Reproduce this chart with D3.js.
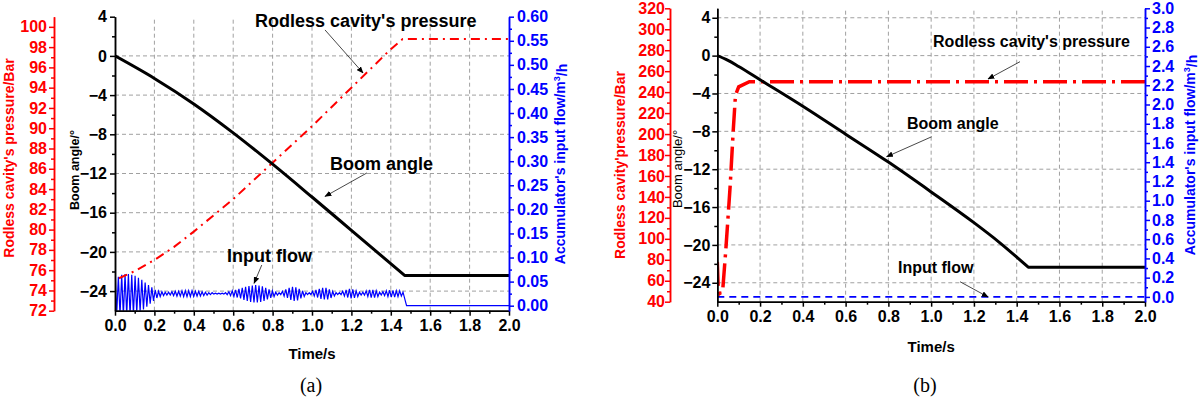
<!DOCTYPE html>
<html><head><meta charset="utf-8">
<script src="https://cdn.jsdelivr.net/npm/d3@7/dist/d3.min.js"></script>
<style>
body{margin:0;background:#fff}
svg{display:block}
</style>
</head><body>
<svg id="chart" width="1200" height="398" font-family="Liberation Sans, Arial, sans-serif"></svg>
<script>
// ---------------- data ----------------
const timeTicks = [0, 0.2, 0.4, 0.6, 0.8, 1.0, 1.2, 1.4, 1.6, 1.8, 2.0];
const boomTicks = [-24, -20, -16, -12, -8, -4, 0, 4];
const pressTicksA = [72, 74, 76, 78, 80, 82, 84, 86, 88, 90, 92, 94, 96, 98, 100];
const flowTicksA = [0, 0.05, 0.10, 0.15, 0.20, 0.25, 0.30, 0.35, 0.40, 0.45, 0.50, 0.55, 0.60];
const pressTicksB = [40, 60, 80, 100, 120, 140, 160, 180, 200, 220, 240, 260, 280, 300, 320];
const flowTicksB = [0, 0.2, 0.4, 0.6, 0.8, 1.0, 1.2, 1.4, 1.6, 1.8, 2.0, 2.2, 2.4, 2.6, 2.8, 3.0];

// panel (a)
const boomTimeA = [0, 0.2, 0.4, 0.6, 0.8, 1.0, 1.2, 1.47, 2.0];
const boomA     = [0, -2.3, -4.9, -7.85, -11.05, -14.4, -17.8, -22.4, -22.4];
const boomStopA = 1.47;
const pressTimeA = [0.02, 0.1, 0.2, 0.3, 0.4, 0.5, 0.6, 0.7, 0.8, 0.9, 1.0, 1.1, 1.2, 1.3, 1.4, 1.46, 2.0];
const pressA     = [75.2, 75.9, 77.0, 78.3, 79.8, 81.4, 83.0, 84.8, 86.6, 88.4, 90.2, 92.1, 94.0, 95.9, 97.8, 98.8, 98.8];
const flowStepA = 0.0085; // sample spacing (s) of the flow trace, alternating peaks/troughs
const flowA = [
  0.081, -0.020, 0.060, -0.020, 0.064, -0.020, 0.066, -0.020, 0.066, -0.020,
  0.064, -0.018, 0.062, -0.015, 0.058, -0.012, 0.054, -0.008, 0.048, -0.002,
  0.043, 0.004, 0.038, 0.010, 0.033, 0.016, 0.030, 0.019, 0.029, 0.021,
  0.028, 0.022, 0.028, 0.022, 0.029, 0.021, 0.030, 0.020, 0.030, 0.020,
  0.031, 0.019, 0.031, 0.019, 0.031, 0.019, 0.031, 0.019, 0.030, 0.020,
  0.030, 0.020, 0.029, 0.021, 0.028, 0.022, 0.027, 0.023, 0.027, 0.024,
  0.026, 0.024, 0.026, 0.024, 0.026, 0.024, 0.027, 0.023, 0.029, 0.021,
  0.031, 0.019, 0.033, 0.017, 0.035, 0.015, 0.037, 0.012, 0.039, 0.010,
  0.041, 0.008, 0.042, 0.007, 0.043, 0.007, 0.042, 0.008, 0.040, 0.010,
  0.037, 0.013, 0.034, 0.016, 0.031, 0.019, 0.028, 0.022, 0.027, 0.023,
  0.030, 0.020, 0.034, 0.016, 0.037, 0.012, 0.039, 0.010, 0.038, 0.011,
  0.035, 0.015, 0.031, 0.019, 0.027, 0.023, 0.027, 0.023, 0.030, 0.020,
  0.033, 0.017, 0.035, 0.014, 0.037, 0.013, 0.037, 0.013, 0.034, 0.016,
  0.030, 0.020, 0.027, 0.023, 0.027, 0.023, 0.030, 0.020, 0.033, 0.017,
  0.035, 0.015, 0.034, 0.016, 0.031, 0.019, 0.028, 0.022, 0.028, 0.022,
  0.031, 0.019, 0.033, 0.017, 0.033, 0.017, 0.031, 0.019, 0.028, 0.022,
  0.029, 0.021, 0.031, 0.019, 0.032, 0.018, 0.032, 0.018, 0.031, 0.019,
  0.031, 0.020, 0.028
];
const flowTailTimeA = [1.48, 2.0];
const flowTailA     = [0, 0];

// panel (b)
const boomTimeB = [0, 0.05, 0.1, 0.2, 0.4, 0.6, 0.8, 1.0, 1.2, 1.32, 1.454, 2.0];
const boomB     = [0, -0.5, -1.15, -2.55, -5.35, -8.3, -11.25, -14.4, -17.65, -19.75, -22.35, -22.35];
const boomStopB = 1.454;
const pressTimeB = [0, 0.004, 0.012, 0.025, 0.04, 0.06, 0.075, 0.085, 0.1, 0.15, 2.0];
const pressB     = [78, 55, 48, 50, 90, 150, 205, 237, 245, 250, 250];
const flowTimeB = [0, 2.0];
const flowB     = [0, 0];

// annotations (time, boom angle) — text anchor and arrow from/to
const notesA = [
  {label: "Rodless cavity's pressure", t: 0.711, v: 2.95, a: [1.066, 2.65, 1.259, -1.74]},
  {label: "Boom angle", t: 1.091, v: -11.64, a: [1.279, -11.94, 1.066, -14.34]},
  {label: "Input flow", t: 0.569, v: -21.0, a: [0.745, -21.34, 0.706, -23.2]}
];
const notesB = [
  {label: "Rodless cavity's pressure", t: 1.009, v: 0.94, a: [1.4155, -0.64, 1.266, -2.47]},
  {label: "Boom angle", t: 0.887, v: -7.78, a: [1.0026, -8.57, 0.792, -10.68]},
  {label: "Input flow", t: 0.845, v: -23.0, a: [1.135, -23.89, 1.266, -25.5]}
];

// ---------------- drawing ----------------
const svg = d3.select("#chart");
const defs = svg.append("defs");
defs.append("marker").attr("id", "arr").attr("viewBox", "0 0 10 8")
  .attr("refX", 9).attr("refY", 4).attr("markerWidth", 7).attr("markerHeight", 6)
  .attr("orient", "auto").attr("markerUnits", "userSpaceOnUse")
  .append("path").attr("d", "M0,0 L10,4 L0,8 Z").attr("fill", "#000");

function minors(ticks) {
  const m = [];
  for (let i = 0; i < ticks.length - 1; i++) m.push((ticks[i] + ticks[i + 1]) / 2);
  return m;
}

function panel(o) {
  const g = svg.append("g");
  const x = d3.scaleLinear().domain([0, 2]).range([o.x0, o.x1]);
  const yB = d3.scaleLinear().domain(o.boomDom).range([o.yb, o.yt]);
  const yP = d3.scaleLinear().domain(o.pressDom).range([o.yb, o.yt]);
  const yF = d3.scaleLinear().domain(o.flowDom).range([o.yb, o.yt]);

  // grid
  const grid = g.append("g").attr("stroke", "#a0a0a0").attr("stroke-width", 1).attr("stroke-dasharray", "4,3");
  timeTicks.filter(d => d > 0 && d < 2).forEach(d => {
    grid.append("line").attr("x1", x(d)).attr("x2", x(d)).attr("y1", o.yb).attr("y2", o.yt);
  });
  o.gridBoom.forEach(d => {
    grid.append("line").attr("x1", o.x0).attr("x2", o.x1).attr("y1", yB(d)).attr("y2", yB(d));
  });

  const cid = "clip" + o.id;
  defs.append("clipPath").attr("id", cid).append("rect")
    .attr("x", o.x0).attr("y", o.yt - 2).attr("width", o.x1 - o.x0).attr("height", o.yb - o.yt + 2);
  const plot = g.append("g").attr("clip-path", `url(#${cid})`);

  plot.append("path").datum(o.flowPts)
    .attr("d", d3.line().x(d => x(d[0])).y(d => yF(d[1])))
    .attr("fill", "none").attr("stroke", "#0000ff").attr("stroke-width", o.flowW)
    .attr("stroke-dasharray", o.flowDash);
  plot.append("path").datum(o.pressPts)
    .attr("d", d3.line().x(d => x(d[0])).y(d => yP(d[1])))
    .attr("fill", "none").attr("stroke", "#ff0000").attr("stroke-width", o.pressW)
    .attr("stroke-dasharray", o.pressDash);
  // boom: smooth descent, then straight hold
  const descent = o.boomPts.filter(d => d[0] <= o.boomStop);
  const hold = o.boomPts.filter(d => d[0] >= o.boomStop);
  const boomPath = d3.line().x(d => x(d[0])).y(d => yB(d[1])).curve(d3.curveMonotoneX)(descent)
    + d3.line().x(d => x(d[0])).y(d => yB(d[1]))(hold).replace(/^M/, "L");
  plot.append("path").attr("d", boomPath)
    .attr("fill", "none").attr("stroke", "#000").attr("stroke-width", 3).attr("stroke-linejoin", "round");

  const fs = o.tickFs;
  function styleAxis(sel, color) {
    sel.selectAll("path").attr("stroke", color).attr("stroke-width", 1.5);
    sel.selectAll("line").attr("stroke", color).attr("stroke-width", 1.5);
    sel.selectAll("text").attr("fill", color).attr("font-size", fs).attr("font-weight", "bold")
      .attr("font-family", "Liberation Sans, Arial, sans-serif");
  }
  function addAxis(axisFn, scale, ticks, fmt, tx, ty, color, pad) {
    const major = g.append("g").attr("transform", `translate(${tx},${ty})`)
      .call(axisFn(scale).tickValues(ticks).tickFormat(fmt).tickSize(5).tickSizeOuter(0).tickPadding(pad));
    styleAxis(major, color);
    const minor = g.append("g").attr("transform", `translate(${tx},${ty})`)
      .call(axisFn(scale).tickValues(minors(ticks)).tickFormat("").tickSize(3).tickSizeOuter(0));
    styleAxis(minor, color);
    return major;
  }
  addAxis(d3.axisBottom, x, timeTicks, d3.format(".1f"), 0, o.yb, "#000", 4);
  addAxis(d3.axisLeft, yB, boomTicks, d3.format("d"), o.x0, 0, "#000", o.boomPad);
  addAxis(d3.axisLeft, yP, o.pressTicks, d3.format("d"), o.px, 0, "#ff0000", o.pressPad);
  addAxis(d3.axisRight, yF, o.flowTicks, d3.format(o.flowFmt), o.x1, 0, "#0000ff", o.flowPad);

  // axis titles
  const tfs = 14;
  g.append("text").attr("transform", `translate(${o.pressTitle[0]},${o.pressTitle[1]}) rotate(-90)`)
    .attr("text-anchor", "middle").attr("dy", "0.35em").attr("fill", "#ff0000")
    .attr("font-size", tfs).attr("font-weight", "bold").text(o.pressLabel);
  g.append("text").attr("transform", `translate(${o.boomTitle[0]},${o.boomTitle[1]}) rotate(-90)`)
    .attr("text-anchor", "middle").attr("dy", "0.35em").attr("fill", "#000")
    .attr("font-size", o.boomTitleFs).attr("font-weight", o.boomTitleW).text("Boom angle/°");
  const ft = g.append("text").attr("transform", `translate(${o.flowTitle[0]},${o.flowTitle[1]}) rotate(-90)`)
    .attr("text-anchor", "middle").attr("dy", "0.35em").attr("fill", "#0000ff")
    .attr("font-size", tfs).attr("font-weight", "bold");
  ft.append("tspan").text("Accumulator's input flow/m");
  ft.append("tspan").attr("font-size", 9).attr("dy", "-0.6em").text("3");
  ft.append("tspan").attr("dy", "0.5em").text("/h");

  g.append("text").attr("x", (o.x0 + o.x1) / 2).attr("y", o.timeY)
    .attr("text-anchor", "middle").attr("font-size", 15).attr("font-weight", "bold").text("Time/s");
  g.append("text").attr("x", o.tagX).attr("y", 392)
    .attr("text-anchor", "middle").attr("font-size", 20)
    .attr("font-family", "Liberation Serif, Times New Roman, serif").text(o.tag);

  // annotations
  o.notes.forEach(n => {
    g.append("text").attr("x", x(n.t)).attr("y", yB(n.v))
      .attr("font-size", o.noteFs).attr("font-weight", "bold").attr("fill", "#000").text(n.label);
    g.append("line").attr("x1", x(n.a[0])).attr("y1", yB(n.a[1]))
      .attr("x2", x(n.a[2])).attr("y2", yB(n.a[3]))
      .attr("stroke", "#333").attr("stroke-width", 0.9).attr("marker-end", "url(#arr)");
  });
}

const flowPtsA = flowA.map((v, i) => [i * flowStepA, v]).concat(flowTailTimeA.map((t, i) => [t, flowTailA[i]]));

panel({
  id: "a", x0: 115, x1: 509, yt: 16.7, yb: 310.7, px: 54,
  boomDom: [-26, 4], pressDom: [72, 101], flowDom: [-0.0104, 0.6],
  gridBoom: [-24, -20, -16, -12, -8, -4, 0],
  pressTicks: pressTicksA, flowTicks: flowTicksA, flowFmt: ".2f",
  boomPts: boomTimeA.map((t, i) => [t, boomA[i]]), boomStop: boomStopA,
  pressPts: pressTimeA.map((t, i) => [t, pressA[i]]),
  flowPts: flowPtsA,
  flowW: 1.2, flowDash: null, pressW: 2, pressDash: "9,5,2,5",
  tickFs: 16, boomPad: 3, pressPad: 2, flowPad: 3,
  pressLabel: "Rodless cavity's pressure/Bar", pressTitle: [9, 158],
  boomTitle: [75, 170], boomTitleW: "bold", boomTitleFs: 12.5, flowTitle: [560, 164],
  timeY: 359, tag: "(a)", tagX: 311, notes: notesA, noteFs: 18
});

panel({
  id: "b", x0: 717.3, x1: 1145, yt: 8.3, yb: 301.7, px: 670,
  boomDom: [-26, 5], pressDom: [40, 320], flowDom: [-0.05, 3.0],
  gridBoom: [-24, -20, -16, -12, -8, -4, 0, 4],
  pressTicks: pressTicksB, flowTicks: flowTicksB, flowFmt: ".1f",
  boomPts: boomTimeB.map((t, i) => [t, boomB[i]]), boomStop: boomStopB,
  pressPts: pressTimeB.map((t, i) => [t, pressB[i]]),
  flowPts: flowTimeB.map((t, i) => [t, flowB[i]]),
  flowW: 1.6, flowDash: "7,5", pressW: 3.5, pressDash: "24,6,3,6",
  tickFs: 16, boomPad: 2, pressPad: 0, flowPad: 2,
  pressLabel: "Rodless cavity'pressure/Bar", pressTitle: [620, 165],
  boomTitle: [677, 169], boomTitleW: "normal", boomTitleFs: 13, flowTitle: [1190, 155],
  timeY: 352, tag: "(b)", tagX: 925, notes: notesB, noteFs: 16
});
</script>
</body></html>
